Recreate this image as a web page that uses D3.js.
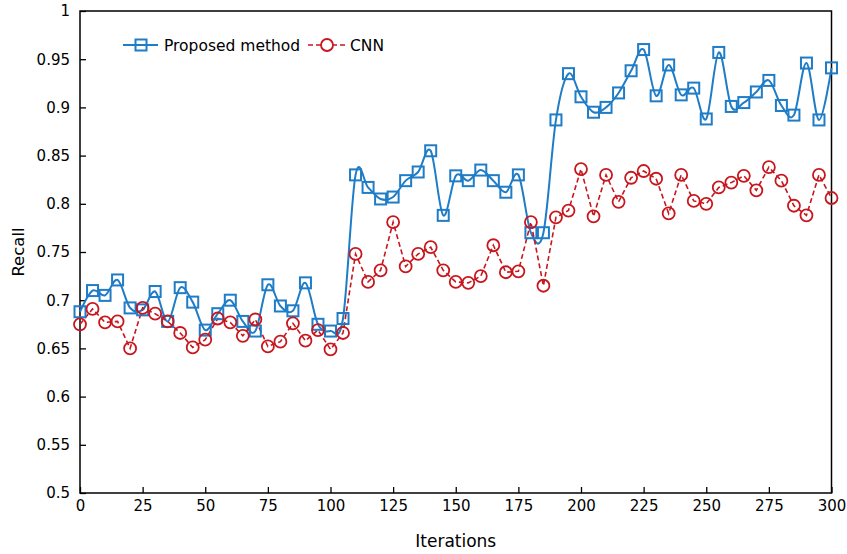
<!DOCTYPE html>
<html>
<head>
<meta charset="utf-8">
<script src="https://cdn.jsdelivr.net/npm/d3@7"></script>
<style>
  body { margin: 0; background: #fff; }
  svg { display: block; }
  text { font-family: "DejaVu Sans", Verdana, sans-serif; fill: #000; }
</style>
</head>
<body>
<svg id="chart" width="847" height="554"></svg>
<script>
// iterations, one point every 5
const iterations = d3.range(0, 301, 5);
const proposed = [
  0.688, 0.710, 0.705, 0.721, 0.692, 0.690, 0.709, 0.678, 0.713, 0.698,
  0.669, 0.686, 0.700, 0.678, 0.668, 0.716, 0.694, 0.689, 0.718, 0.675,
  0.668, 0.681, 0.830, 0.817, 0.805, 0.807, 0.824, 0.833, 0.855, 0.788,
  0.829, 0.824, 0.835, 0.824, 0.812, 0.830, 0.770, 0.770, 0.887, 0.935,
  0.911, 0.895, 0.900, 0.915, 0.938, 0.960, 0.912, 0.944, 0.913, 0.920,
  0.888, 0.957, 0.901, 0.905, 0.916, 0.928, 0.902, 0.892, 0.946, 0.887,
  0.941
];
const cnn = [
  0.675, 0.691, 0.677, 0.678, 0.650, 0.692, 0.686, 0.678, 0.666, 0.651,
  0.659, 0.681, 0.677, 0.663, 0.680, 0.652, 0.657, 0.676, 0.658, 0.669,
  0.649, 0.666, 0.748, 0.719, 0.731, 0.781, 0.735, 0.748, 0.755, 0.731,
  0.719, 0.718, 0.725, 0.757, 0.729, 0.730, 0.781, 0.715, 0.786, 0.793,
  0.836, 0.787, 0.830, 0.802, 0.827, 0.834, 0.826, 0.790, 0.830, 0.803,
  0.800, 0.817, 0.822, 0.829, 0.814, 0.838, 0.824, 0.798, 0.788, 0.830,
  0.806
];
const xTicks = d3.range(0, 301, 25);
const yTicks = d3.range(0.5, 1.0001, 0.05);
const seriesNames = ['Proposed method', 'CNN'];

const blue = '#1f7cc6', red = '#c8161d';
const margin = { top: 11, right: 15.5, bottom: 61, left: 80 };
const svg = d3.select('#chart');
const width = 847 - margin.left - margin.right;
const height = 554 - margin.top - margin.bottom;
const g = svg.append('g').attr('transform', 'translate(' + margin.left + ',' + margin.top + ')');

const x = d3.scaleLinear().domain([0, 300]).range([0, width]);
const y = d3.scaleLinear().domain([0.5, 1]).range([height, 0]);

// axes, ticks pointing inward
g.append('g')
  .attr('transform', 'translate(0,' + height + ')')
  .call(d3.axisTop(x).tickValues(xTicks).tickSize(6).tickFormat(d3.format('d')))
  .call(function (a) {
    a.select('.domain').remove();
    a.selectAll('.tick line').attr('stroke', '#000').attr('stroke-width', 1.3);
    a.selectAll('.tick text').attr('y', 18).attr('dy', 0).attr('font-size', 15)
      .attr('font-family', '"DejaVu Sans", Verdana, sans-serif');
  });
g.append('g')
  .call(d3.axisRight(y).tickValues(yTicks).tickSize(6).tickFormat(function (d) {
    return +d.toFixed(2) + '';
  }))
  .call(function (a) {
    a.select('.domain').remove();
    a.selectAll('.tick line').attr('stroke', '#000').attr('stroke-width', 1.3);
    a.selectAll('.tick text').attr('x', -10).attr('text-anchor', 'end').attr('font-size', 15)
      .attr('font-family', '"DejaVu Sans", Verdana, sans-serif');
  });

// frame
g.append('rect')
  .attr('x', 0).attr('y', 0).attr('width', width).attr('height', height)
  .attr('fill', 'none').attr('stroke', '#000').attr('stroke-width', 1.5);

// axis titles
svg.append('text')
  .attr('x', margin.left + width / 2).attr('y', 547)
  .attr('text-anchor', 'middle').attr('font-size', 17)
  .text('Iterations');
svg.append('text')
  .attr('transform', 'translate(24,' + (margin.top + height / 2) + ') rotate(-90)')
  .attr('text-anchor', 'middle').attr('font-size', 16.5)
  .text('Recall');

// series
const smooth = d3.line()
  .x(function (d, i) { return x(iterations[i]); })
  .y(function (d) { return y(d); })
  .curve(d3.curveCardinal.tension(0));
const straight = d3.line()
  .x(function (d, i) { return x(iterations[i]); })
  .y(function (d) { return y(d); });

g.append('path').datum(proposed)
  .attr('d', smooth).attr('fill', 'none')
  .attr('stroke', blue).attr('stroke-width', 2);
g.append('path').datum(cnn)
  .attr('d', straight).attr('fill', 'none')
  .attr('stroke', red).attr('stroke-width', 1.6).attr('stroke-dasharray', '5,3');

const sq = 11;
g.selectAll('.sq').data(proposed).enter().append('rect')
  .attr('class', 'sq')
  .attr('x', function (d, i) { return x(iterations[i]) - sq / 2; })
  .attr('y', function (d) { return y(d) - sq / 2; })
  .attr('width', sq).attr('height', sq)
  .attr('fill', 'none').attr('stroke', blue).attr('stroke-width', 2);
g.selectAll('.ci').data(cnn).enter().append('circle')
  .attr('class', 'ci')
  .attr('cx', function (d, i) { return x(iterations[i]); })
  .attr('cy', function (d) { return y(d); })
  .attr('r', 6)
  .attr('fill', 'none').attr('stroke', red).attr('stroke-width', 1.8);

// legend
const ly = 45;
const leg = svg.append('g');
leg.append('line').attr('x1', 123).attr('x2', 158).attr('y1', ly).attr('y2', ly)
  .attr('stroke', blue).attr('stroke-width', 2);
leg.append('rect').attr('x', 141 - sq / 2).attr('y', ly - sq / 2).attr('width', sq).attr('height', sq)
  .attr('fill', 'none').attr('stroke', blue).attr('stroke-width', 2);
leg.append('text').attr('x', 164).attr('y', ly).attr('dy', '0.36em')
  .attr('font-size', 15.5).text(seriesNames[0]);
leg.append('line').attr('x1', 308).attr('x2', 345).attr('y1', ly).attr('y2', ly)
  .attr('stroke', red).attr('stroke-width', 1.6).attr('stroke-dasharray', '5,3');
leg.append('circle').attr('cx', 327).attr('cy', ly).attr('r', 6)
  .attr('fill', '#fff').attr('stroke', red).attr('stroke-width', 1.8);
leg.append('text').attr('x', 350).attr('y', ly).attr('dy', '0.36em')
  .attr('font-size', 15.5).text(seriesNames[1]);
</script>
</body>
</html>
